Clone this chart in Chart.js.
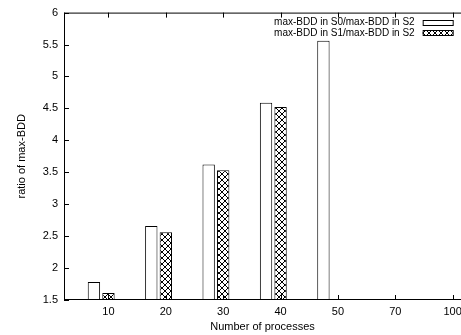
<!DOCTYPE html>
<html>
<head>
<meta charset="utf-8">
<script src="https://cdn.jsdelivr.net/npm/chart.js@4"></script>
<style>
  html, body { margin: 0; padding: 0; background: #fff; }
  #wrap { width: 461px; height: 335px; }
</style>
</head>
<body>
<div id="wrap"><canvas id="ratioChart" width="461" height="335"></canvas></div>
<script>
// x categories: number of processes
const processes = ["10", "20", "30", "40", "50", "70", "100"];
// max-BDD in S0 / max-BDD in S2
const ratioS0 = [1.78, 2.66, 3.62, 4.59, 5.56, null, null];
// max-BDD in S1 / max-BDD in S2
const ratioS1 = [1.61, 2.56, 3.53, 4.52, null, null, null];
const yTicks = [1.5, 2, 2.5, 3, 3.5, 4, 4.5, 5, 5.5, 6];
const seriesNames = ["max-BDD in S0/max-BDD in S2", "max-BDD in S1/max-BDD in S2"];

const font = { family: "'Liberation Sans', Arial, sans-serif", size: 11 };

// gnuplot style crosshatch fill
function makeHatch() {
    const c = document.createElement("canvas");
    c.width = 6; c.height = 6;
    const g = c.getContext("2d");
    g.fillStyle = "#fff";
    g.fillRect(0, 0, 6, 6);
    g.strokeStyle = "#000";
    g.lineWidth = 1;
    g.beginPath();
    g.moveTo(0, 0); g.lineTo(6, 6);
    g.moveTo(6, 0); g.lineTo(0, 6);
    g.stroke();
    return g.createPattern(c, "repeat");
}
const hatch = makeHatch();

function toPoints(arr) {
    return arr.map((v, i) => ({ x: i, y: v })).filter(p => p.y !== null);
}

// border, inward ticks and the key at top right
// (the right side of the plot box falls just outside the picture, so it is not drawn)
const framePlugin = {
    id: "frame",
    afterDraw(chart) {
        const { ctx, chartArea: a, scales } = chart;
        ctx.save();
        ctx.strokeStyle = "#000";
        ctx.lineWidth = 1;
        const line = (x1, y1, x2, y2) => {
            ctx.beginPath(); ctx.moveTo(x1, y1); ctx.lineTo(x2, y2); ctx.stroke();
        };
        line(a.left + 0.5, a.top, a.left + 0.5, a.bottom);
        line(a.left, a.top + 0.5, a.right, a.top + 0.5);
        line(a.left, a.bottom - 0.5, a.right, a.bottom - 0.5);
        scales.x.ticks.forEach(t => {
            const x = Math.round(scales.x.getPixelForValue(t.value)) + 0.5;
            line(x, a.bottom, x, a.bottom - 5);
            line(x, a.top, x, a.top + 5);
        });
        scales.y.ticks.forEach(t => {
            const y = Math.round(scales.y.getPixelForValue(t.value)) + 0.5;
            line(a.left, y, a.left + 5, y);
        });

        // key, right end lined up with the last x tick
        const keyRight = scales.x.getPixelForValue(processes.length - 1);
        ctx.font = "10px 'Liberation Sans', Arial, sans-serif";
        ctx.textAlign = "right";
        ctx.textBaseline = "middle";
        const fills = ["#fff", hatch];
        seriesNames.forEach((name, i) => {
            const y = a.top + 10 + i * 10.5;
            ctx.fillStyle = "#000";
            ctx.fillText(name, keyRight - 38, y);
            ctx.fillStyle = fills[i];
            ctx.fillRect(keyRight - 30, Math.round(y) - 2.5, 30, 5);
            ctx.strokeRect(keyRight - 30 + 0.5, Math.round(y) - 2.5, 30, 5);
        });
        ctx.restore();
    }
};

const ctx = document.getElementById("ratioChart").getContext("2d");
const ratioChart = new Chart(ctx, {
    type: "bar",
    data: {
        datasets: [
            { label: seriesNames[0], data: toPoints(ratioS0), backgroundColor: "#fff", borderColor: "#000", borderWidth: 1 },
            { label: seriesNames[1], data: toPoints(ratioS1), backgroundColor: hatch, borderColor: "#000", borderWidth: 1 },
            // empty third slot so the pair sits left of the tick like gnuplot's cluster
            { label: "", data: [] }
        ]
    },
    options: {
        responsive: false,
        animation: false,
        categoryPercentage: 0.76,
        barPercentage: 0.85,
        layout: { padding: { top: 11, right: 0, left: 0, bottom: 0 } },
        plugins: { legend: { display: false }, tooltip: { enabled: false } },
        scales: {
            x: {
                type: "linear",
                offset: false,
                min: -0.775,
                max: 6.145,
                grid: { display: false, drawTicks: false, offset: false },
                border: { display: false },
                afterBuildTicks: s => { s.ticks = processes.map((p, i) => ({ value: i })); },
                afterFit: s => { s.height = 35; s.paddingLeft = 0; s.paddingRight = 0; },
                ticks: { callback: v => processes[v], padding: 5, color: "#000", font: font, maxRotation: 0, autoSkip: false },
                title: { display: true, text: "Number of processes", color: "#000", font: font, padding: { top: 0, bottom: 1 } }
            },
            y: {
                min: 1.5,
                max: 6,
                grid: { display: false, drawTicks: false },
                border: { display: false },
                afterBuildTicks: s => { s.ticks = yTicks.map(v => ({ value: v })); },
                afterFit: s => { s.width = 64; },
                ticks: { callback: v => String(v), padding: 6, color: "#000", font: font },
                title: { display: true, text: "ratio of max-BDD", color: "#000", font: font, padding: { top: 15, bottom: 0 } }
            }
        }
    },
    plugins: [framePlugin]
});
</script>
</body>
</html>
